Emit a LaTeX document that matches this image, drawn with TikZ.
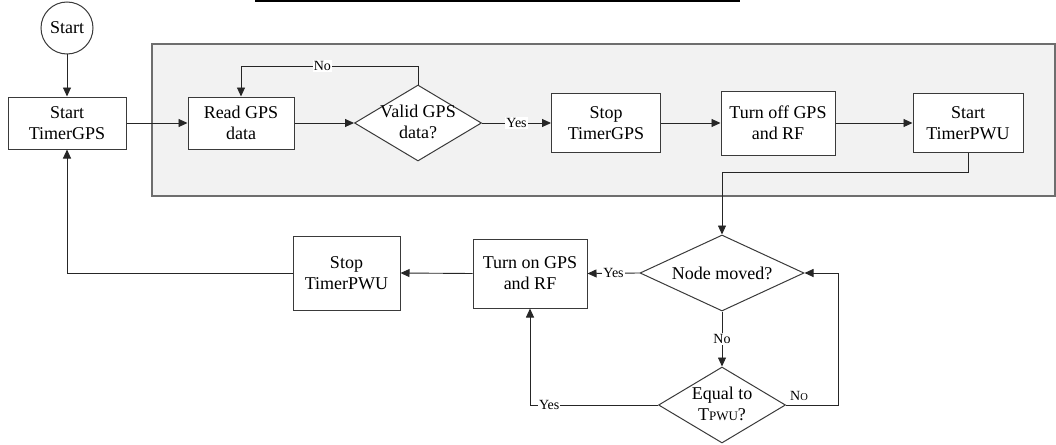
\documentclass[tikz,border=0pt]{standalone}
\usepackage{fontspec}
\setmainfont{Liberation Serif}
\newfontfamily\tms{Liberation Serif}
\usetikzlibrary{shapes.geometric,arrows.meta}
\definecolor{boxline}{HTML}{3A3A3A}
\definecolor{regionfill}{HTML}{F2F2F2}
\definecolor{regionline}{HTML}{6E6E6E}
\tikzset{
  stepbox/.style={draw=boxline, fill=white, line width=1pt, rectangle, align=center, inner sep=0pt,
    font=\tms\fontsize{18}{21}\selectfont},
  decbox/.style={draw=boxline, fill=white, line width=1pt, diamond, inner sep=0pt},
  dectext/.style={align=center, inner sep=0pt, font=\tms\fontsize{18}{21}\selectfont},
  arr/.style={draw=black!85, line width=0.9pt, -{Triangle[length=9pt,width=8pt]}},
  lbl/.style={fill=white, inner sep=1pt, font=\tms\fontsize{14}{16}\selectfont},
  lblplain/.style={inner sep=1pt, font=\tms\fontsize{14}{16}\selectfont},
}
\begin{document}
\begin{tikzpicture}[x=1pt,y=-1pt]
\useasboundingbox (0,0) rectangle (1056,444);
% top rule
\draw[line width=1.6pt, black] (255,0.8) -- (740,0.8);
% grey region
\draw[fill=regionfill, draw=regionline, line width=1.5pt] (152,44) rectangle (1055,196);
% nodes
\node[draw=boxline, line width=1pt, circle, minimum size=52pt, inner sep=0pt,
  font=\tms\fontsize{18}{21}\selectfont] (start) at (67,28) {Start};
\node[stepbox, minimum width=118pt, minimum height=52pt] (tg) at (67,123) {Start\\TimerGPS};
\node[stepbox, minimum width=106pt, minimum height=52pt] (rg) at (241,123) {Read GPS\\data};
\node[decbox, minimum width=127pt, minimum height=76pt] (vg) at (418,123) {};
\node[dectext] (vgt) at (418,122) {Valid GPS\\data?};
\node[stepbox, minimum width=109pt, minimum height=59pt] (sg) at (606,123) {Stop\\TimerGPS};
\node[stepbox, minimum width=114pt, minimum height=64pt] (tf) at (778,123) {Turn off GPS\\and RF};
\node[stepbox, minimum width=110pt, minimum height=59pt] (sp) at (968,123) {Start\\TimerPWU};
\node[decbox, minimum width=164pt, minimum height=76pt] (nm) at (722,273) {};
\node[dectext] (nmt) at (722,273) {Node moved?};
\node[decbox, minimum width=127pt, minimum height=76pt] (eq) at (722,405) {};
\node[dectext] (eqt) at (722,404) {Equal to\\T{\fontsize{13}{13}\selectfont PWU}?};
\node[stepbox, minimum width=114pt, minimum height=69pt] (to) at (530,273.5) {Turn on GPS\\and RF};
\node[stepbox, minimum width=107pt, minimum height=74pt] (stp) at (346.5,273) {Stop\\TimerPWU};
% helper coordinates
\coordinate (n1) at (418,66);
\coordinate (k1) at (968,172);
\coordinate (k2) at (838,405);
\coordinate (k3) at (530,405);
% connectors
\draw[arr] (start.south) -- (tg.north);
\draw[arr] (tg.east) -- (rg.west);
\draw[arr] (rg.east) -- (vg.west);
\draw[arr] (vg.north) -- (n1) -| node[lbl, pos=0.27]{No} (rg.north);
\draw[arr] (vg.east) -- node[lbl]{Yes} (sg.west);
\draw[arr] (sg.east) -- (tf.west);
\draw[arr] (tf.east) -- (sp.west);
\draw[arr] (sp.south) -- (k1) -| (nm.north);
\draw[arr] (nm.west) -- node[lbl]{Yes} (to.east);
\draw[arr] (to.west) -- (stp.east);
\draw[arr] (stp.west) -| (tg.south);
\draw[arr] (nm.south) -- node[lbl]{No} (eq.north);
\draw[arr] (eq.east) -- node[lblplain, pos=0.25, above=3pt]{N{\fontsize{10.5}{10.5}\selectfont O}} (k2) |- (nm.east);
\draw[arr] (eq.west) -- node[lbl, pos=0.85]{Yes} (k3) -- (to.south);
\end{tikzpicture}
\end{document}
